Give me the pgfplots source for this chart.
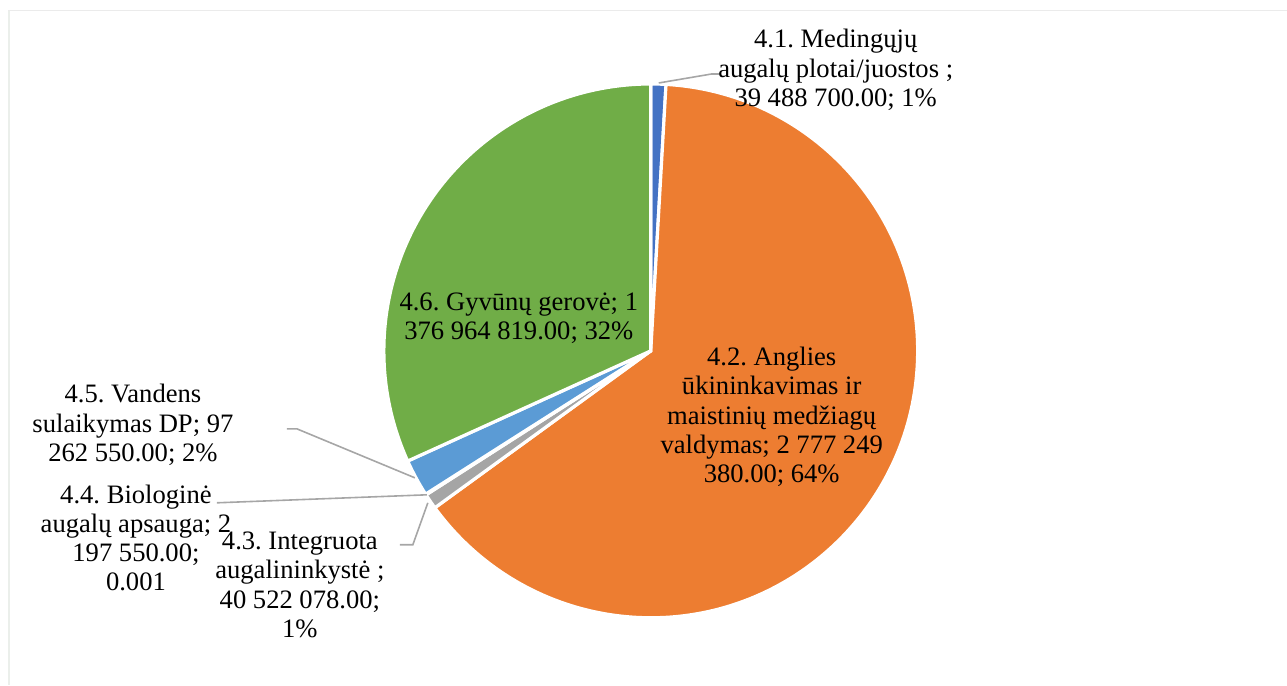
\documentclass[border=0pt]{standalone}
\usepackage{pgfplots}
\usepackage{pgfplotstable}
\pgfplotsset{compat=1.18}
\usepackage{fontspec}
\setmainfont{Liberation Serif}
\frenchspacing

\definecolor{cA}{HTML}{4472C4}
\definecolor{cB}{HTML}{ED7D31}
\definecolor{cC}{HTML}{A5A5A5}
\definecolor{cD}{HTML}{FFC000}
\definecolor{cE}{HTML}{5B9BD5}
\definecolor{cF}{HTML}{70AD47}
\definecolor{leader}{HTML}{A6A6A6}

% values in millions
\pgfplotstableread{
id value
4.1 39.4887
4.2 2777.24938
4.3 40.522078
4.4 2.19755
4.5 97.26255
4.6 1376.964819
}\piedata

\begin{document}
\begin{tikzpicture}[lbl/.style={font=\fontsize{13.3}{14.6}\selectfont, align=center, inner sep=0pt}]
\pgfplotstablegetelem{0}{value}\of\piedata \let\vA\pgfplotsretval
\pgfplotstablegetelem{1}{value}\of\piedata \let\vB\pgfplotsretval
\pgfplotstablegetelem{2}{value}\of\piedata \let\vC\pgfplotsretval
\pgfplotstablegetelem{3}{value}\of\piedata \let\vD\pgfplotsretval
\pgfplotstablegetelem{4}{value}\of\piedata \let\vE\pgfplotsretval
\pgfplotstablegetelem{5}{value}\of\piedata \let\vF\pgfplotsretval
\pgfmathsetmacro\tot{\vA+\vB+\vC+\vD+\vE+\vF}
% clockwise from 12 o'clock
\pgfmathsetmacro\aA{90}
\pgfmathsetmacro\aB{\aA-\vA/\tot*360}
\pgfmathsetmacro\aC{\aB-\vB/\tot*360}
\pgfmathsetmacro\aD{\aC-\vC/\tot*360}
\pgfmathsetmacro\aE{\aD-\vD/\tot*360}
\pgfmathsetmacro\aF{\aE-\vE/\tot*360}
\pgfmathsetmacro\aG{\aF-\vF/\tot*360}
\def\R{133.5pt}
\begin{axis}[
    scale only axis,
    width=643.5pt, height=342.5pt,
    xmin=0, xmax=1287, ymin=0, ymax=685,
    hide axis, clip=false,
]
\path (axis cs:0,0) rectangle (axis cs:1287,685);
% frame
\draw[black!8, line width=0.5pt] (axis cs:8,674) -- (axis cs:1287,674);
\draw[green!20!black!8, line width=1pt] (axis cs:9,674) -- (axis cs:9,0);

% slices
\newcommand\slice[3]{%
  \fill[#3, draw=white, line width=1.6pt, line join=miter]
    (axis cs:651,334) -- ([shift={(#1:\R)}]axis cs:651,334)
    arc[start angle=#1, end angle=#2, radius=\R] -- cycle;}
\slice{\aA}{\aB}{cA}
\slice{\aB}{\aC}{cB}
\slice{\aC}{\aD}{cC}
\slice{\aD}{\aE}{cD}
\slice{\aE}{\aF}{cE}
\slice{\aF}{\aG}{cF}

% leader lines
\draw[leader, line width=0.8pt] (axis cs:659,602) -- (axis cs:712,611) -- (axis cs:720,611);
\draw[leader, line width=0.8pt] (axis cs:287,256) -- (axis cs:297,256) -- (axis cs:415,207);
\draw[leader, line width=0.8pt] (axis cs:217,182) -- (axis cs:427,190);
\draw[leader, line width=0.8pt] (axis cs:400,140) -- (axis cs:413,140) -- (axis cs:428,182);

% labels
\node[lbl] at (axis cs:836,615) {4.1. Medingųjų\\augalų plotai/juostos ;\\39 488 700.00; 1\%};
\node[lbl] at (axis cs:772,268) {4.2. Anglies\\ūkininkavimas ir\\maistinių medžiagų\\valdymas; 2 777 249\\380.00; 64\%};
\node[lbl] at (axis cs:519,367) {4.6. Gyvūnų gerovė; 1\\376 964 819.00; 32\%};
\node[lbl] at (axis cs:133,260) {4.5. Vandens\\sulaikymas DP; 97\\262 550.00; 2\%};
\node[lbl] at (axis cs:136,147) {4.4. Biologinė\\augalų apsauga; 2\\197 550.00;\\0.001};
\node[lbl] at (axis cs:300,100) {4.3. Integruota\\augalininkystė ;\\40 522 078.00;\\1\%};
\end{axis}
\end{tikzpicture}
\end{document}
